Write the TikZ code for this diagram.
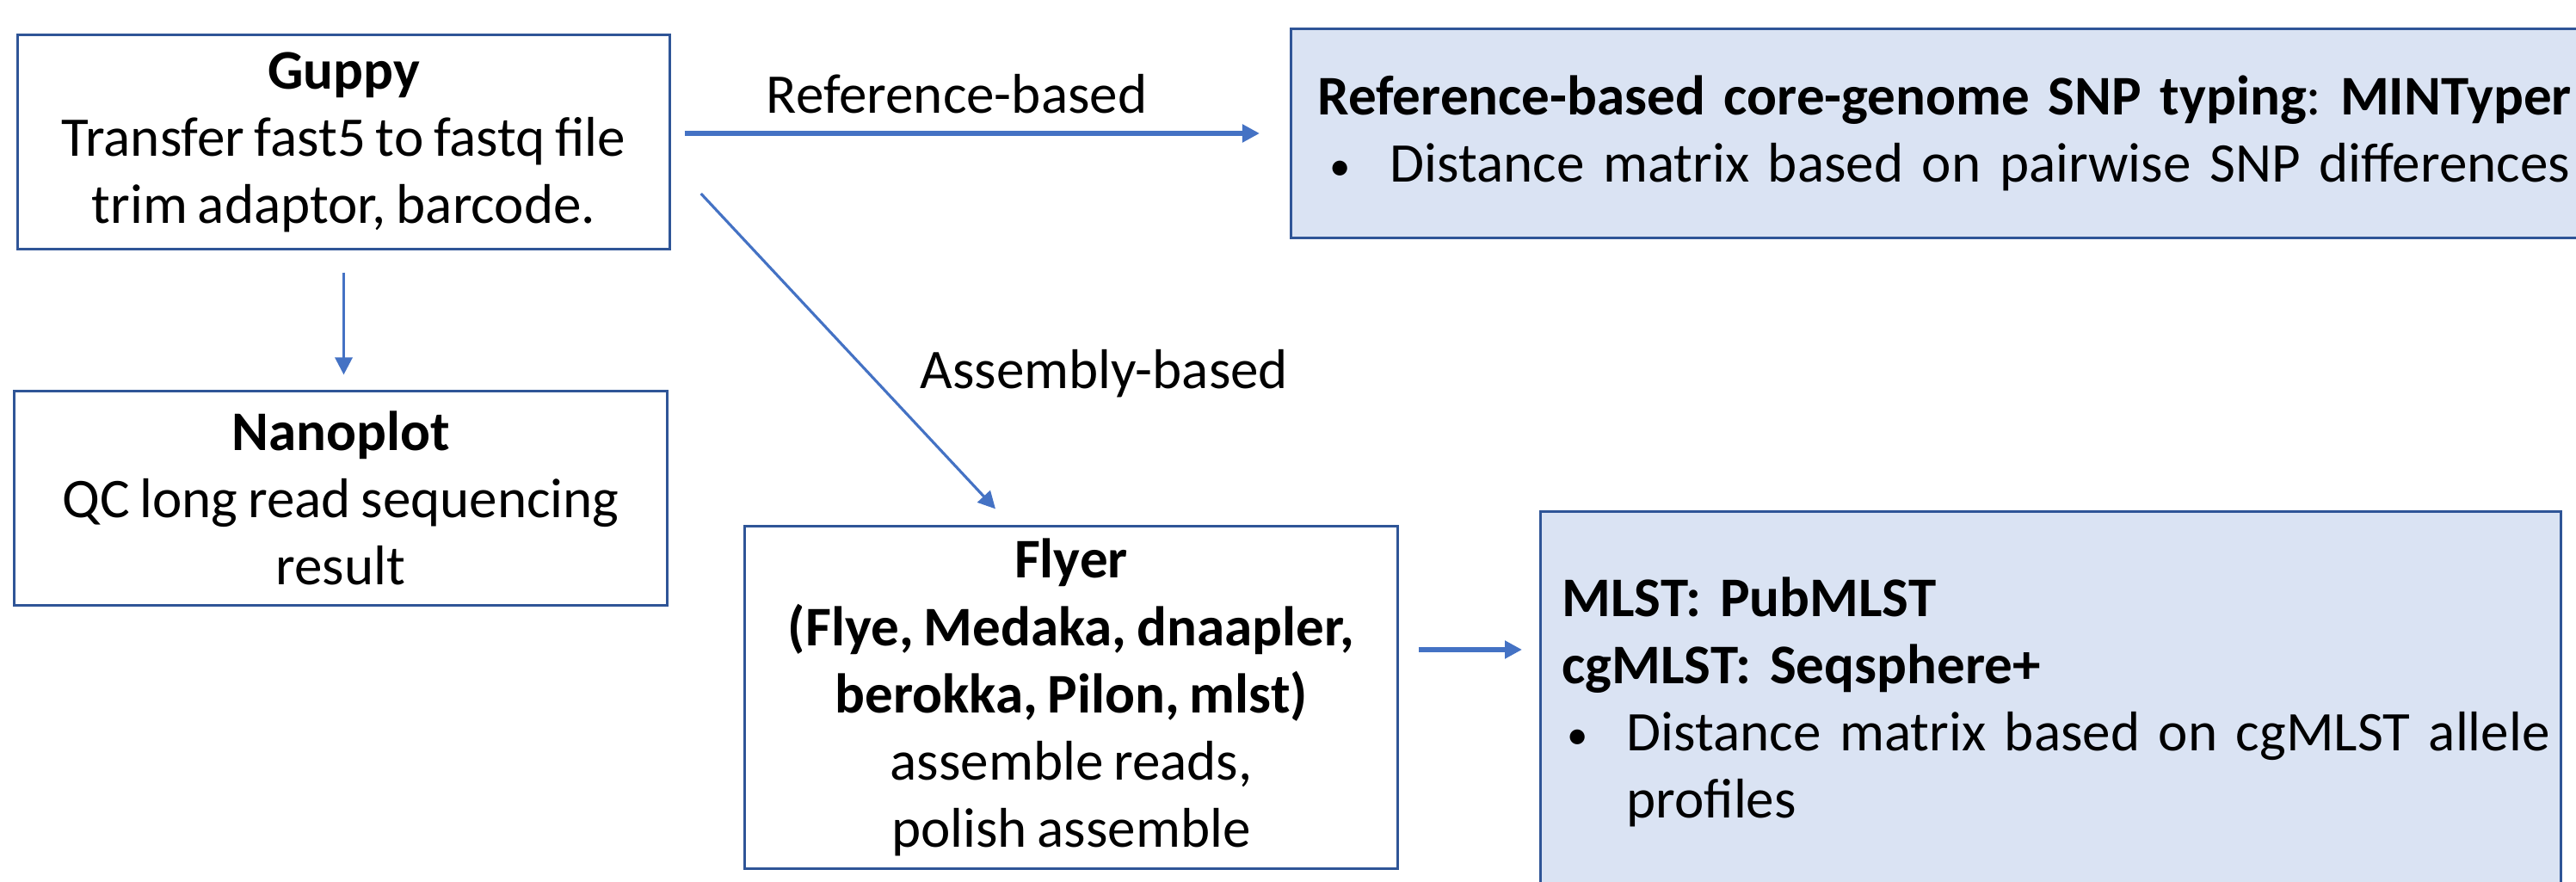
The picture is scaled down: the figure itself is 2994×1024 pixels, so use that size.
\documentclass[tikz,border=0pt]{standalone}
\usepackage{fontspec}
\setmainfont{Carlito}[WordSpace=0.8]
\usepackage{xcolor}
\usetikzlibrary{arrows.meta, positioning}

\definecolor{boxline}{HTML}{2F5597}
\definecolor{arrowblue}{HTML}{4472C4}
\definecolor{boxfill}{HTML}{DAE3F3}
\newcommand{\boxfont}{\fontsize{18.5pt}{22.2pt}\selectfont\frenchspacing}
\newcommand{\smallbullet}{\raisebox{0.02cm}{\scalebox{0.75}{\textbullet}}}

\tikzset{
  box/.style={draw=boxline, line width=0.85pt, rectangle, inner sep=0pt, align=center, font=\boxfont},
  bluebox/.style={box, fill=boxfill, align=left},
  arr/.style={draw=arrowblue, line width=0.9pt, -{Triangle[length=0.2cm,width=0.2cm]}},
  thickarr/.style={arr, line width=1.5pt},
  lbl/.style={font=\boxfont, inner sep=0pt},
}

\begin{document}
\begin{tikzpicture}[x=0.01cm, y=-0.01cm]
    \useasboundingbox (0,0) rectangle (2994,1024);
    \clip (0,0) rectangle (2994,1024);

    \node[box, minimum width=7.57cm, minimum height=2.48cm] (guppy) at (399.5,165)
        {\textbf{Guppy}\\Transfer fast5 to fastq file\\trim adaptor, barcode.};
    \node[box, minimum width=7.58cm, minimum height=2.48cm] (nano) at (396,579)
        {\textbf{Nanoplot}\\QC long read sequencing\\result};
    \node[box, minimum width=7.58cm, minimum height=3.97cm] (flyer) at (1245,810.5)
        {\textbf{Flyer}\\\textbf{(Flye, Medaka, dnaapler,}\\\textbf{berokka, Pilon, mlst)}\\assemble reads,\\polish assemble};

    \node[bluebox, anchor=west, minimum height=2.42cm, text width=15cm, inner xsep=0.31cm] (refbox) at (1499,155)
        {\mbox{\textbf{Reference-based core-genome SNP typing}: \textbf{MINTyper}}\\
         \makebox[0.84cm][l]{\hspace{0.14cm}\smallbullet}\mbox{Distance matrix based on pairwise SNP differences}};
    \node[bluebox, anchor=north west, minimum width=11.85cm, minimum height=4.42cm, text width=11.35cm, inner xsep=0.25cm] (mlst) at (1789,593)
        {\textbf{MLST: PubMLST}\\\textbf{cgMLST: Seqsphere+}\\
         \makebox[0.75cm][l]{\hspace{0.06cm}\smallbullet}\mbox{Distance matrix based on cgMLST allele}\\
         \hspace*{0.75cm}profiles};

    % connectors
    \coordinate (asmstart) at ([shift={(35,60)}]guppy.east);
    \coordinate (asmend) at ([shift={(-88,-19)}]flyer.north);
    \draw[thickarr, shorten <=0.16cm, shorten >=0.35cm] (guppy.east |- refbox.west) -- (refbox.west);
    \draw[arr, shorten <=0.26cm, shorten >=0.18cm] (guppy.south) -- (guppy.south |- nano.north);
    \draw[arr] (asmstart) -- (asmend);
    \draw[thickarr, shorten <=0.23cm, shorten >=0.2cm] ([yshift=0.555cm]flyer.east) -- ([yshift=0.555cm]flyer.east -| mlst.west);

    \node[lbl, anchor=base] (reflbl) at (1112,131) {Reference-based};
    \node[lbl, anchor=base west] (asmlbl) at (1069,451) {Assembly-based};
\end{tikzpicture}
\end{document}
